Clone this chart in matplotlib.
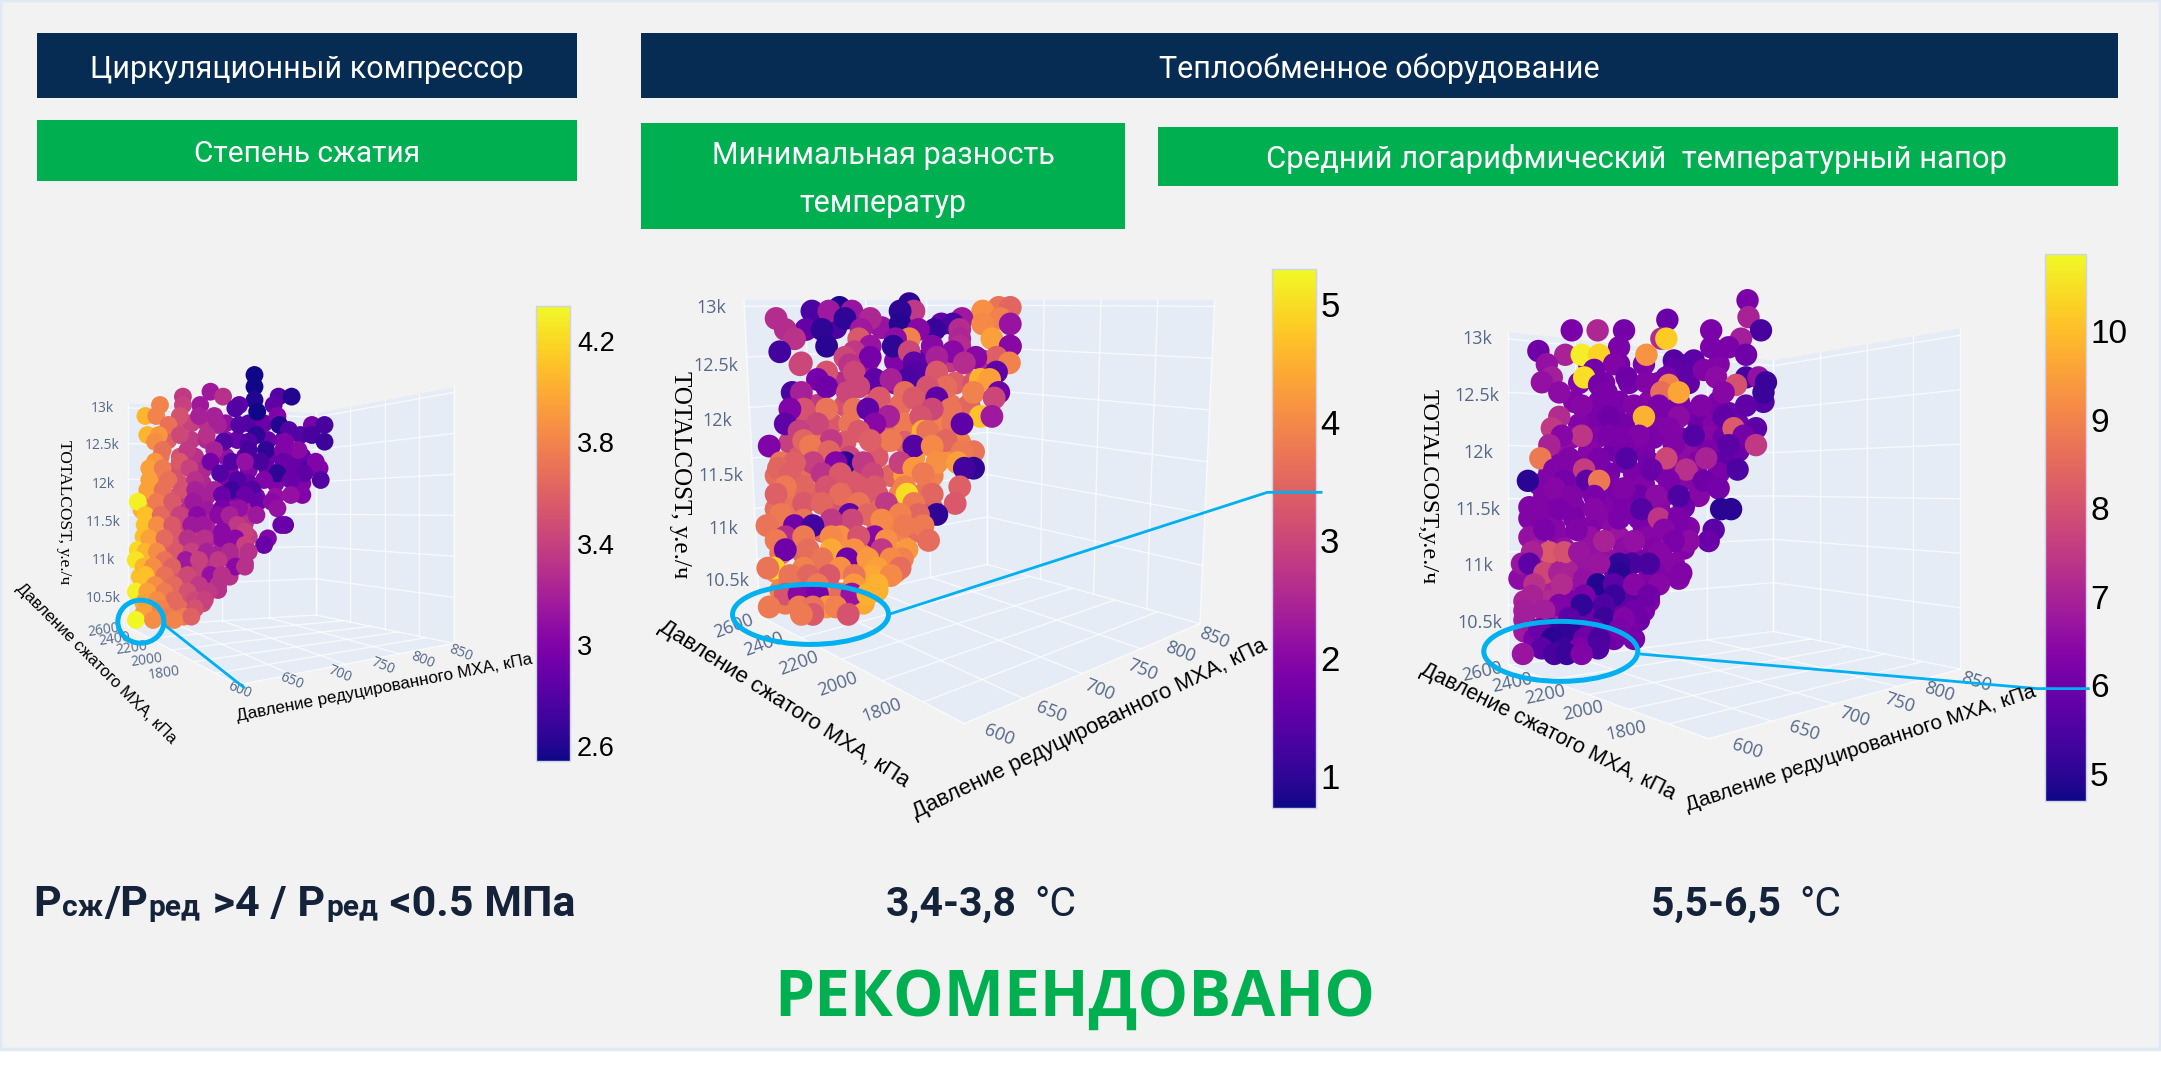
import numpy as np
import matplotlib
matplotlib.use("Agg")
import matplotlib.pyplot as plt
from matplotlib.patches import Rectangle, Polygon, Ellipse
from matplotlib.cm import ScalarMappable
from matplotlib.colors import Normalize

HEAD = ['Roboto', 'Open Sans', 'DejaVu Sans']
W, H = 2161, 1073
BG = '#f2f2f2'; NAVY = '#062c54'; GREEN = '#00b050'; CYAN = '#00b0f0'; INK = '#14233a'
TICK = '#54688a'; PLANE = '#e5ecf6'

# ---------- data: rows of equal TOTALCOST, projected position in the view, colour value ----------
left_under_cost = [12803,12583,12364,12189,12013,11838,11662,11487,11311,11136,10961,10785,10610,10434,10303]
left_under_proj = [[470,500,540,590,650,690],[440,500,540,590,620,700,740],[420,470,510,590,640,700,760,790],[460,530,600,650,700,740,800],[410,470,530,590,650,720,790],[400,440,490,540,610,670,720],[370,405,450,490,540,610,650],[390,430,480,540,590,640],[375,410,460,510,560,610,650],[360,395,440,480,530,580,625],[395,435,470,520,560,610,640],[365,405,450,480,520,560,600],[410,460,500,540,570],[375,430,470,500,530],[375,420,450,490]]
left_under_val = [[3.5,3.4,3.3,3.1,2.8,2.9],[3.6,3.35,3.25,3.1,2.9,2.9,2.9],[3.7,3.5,3.3,3.1,2.95,2.9,2.9,2.9],[3.5,3.25,3.0,3.0,2.9,2.9,2.8],[3.75,3.5,3.25,3.0,2.9,3.0,3.0],[3.75,3.55,3.35,3.2,3.0,3.0,3.1],[4.0,3.75,3.55,3.3,3.15,3.15,3.2],[3.9,3.65,3.4,3.2,3.15,3.3],[4.1,3.8,3.55,3.35,3.2,3.2,3.35],[4.2,3.9,3.6,3.45,3.35,3.2,3.35],[3.9,3.7,3.55,3.35,3.3,3.25,3.3],[4.1,3.85,3.6,3.5,3.4,3.3,3.3],[3.85,3.65,3.5,3.4,3.3],[4.0,3.75,3.65,3.5,3.45],[3.95,3.8,3.75,3.6]]
left_cost = [13439,13285,13219,13154,13110,13044,13000,12956,12899,12781,12715,12649,12561,12452,12298,12211,12145,12057,11925,11860,11772,11684,11596,11465,11377,11289,11202,11114,11004,10917,10807,10675,10588,10478,10368,10259,10215]
left_proj = [[665],[665],[550],[478,583,728,762],[665],[418,523,478,625,715],[615],[672],[380,408,470,520,560,725],[730,815,848,625,440,570],[755],[670,785,815,385,415,470,540],[585,848,405,745,650],[650,695,780,425,490,740,560],[405,550,605,825,680,740,470,640],[390,425,495,835,770],[575,725,795],[390,440,510,620,690,760,838],[605,385,425,475,510,660,560],[790,760,580,640],[360,410,450,505,675,710],[725,580,625],[380,420,470,515,570,600,670],[378,745,735,410,450,500,530,620],[640,580],[390,700,430,490,580,535,615],[690,640],[380,410,460,500,540,650,600],[355,430,485,520,570],[615,375,400,450,640],[550,380,430,490,580],[375,405,455,520,570],[355,385,430,490,545],[455,380,410,510,535],[385,420,470,510],[440,480,500],[355,400,455]]
left_val = [[2.55],[2.55],[3.15],[3.35,3.3,2.8,2.6],[2.6],[3.8,3.15,3.4,2.85,2.85],[2.8],[2.55],[4.05,3.8,3.5,3.2,3.2,3.0],[2.6,2.95,2.75,2.8,3.7,3.2],[2.8],[2.65,2.8,2.75,4.05,3.9,3.45,3.3],[2.8,2.7,3.85,3.0,2.8],[2.75,2.65,3.05,3.7,3.35,3.0,3.2],[3.9,2.95,2.8,3.0,2.75,2.9,3.55,3.1],[3.95,3.75,3.4,3.0,2.9],[2.8,2.65,2.85],[3.95,3.7,3.3,2.8,3.0,2.9,2.8],[2.7,3.95,3.7,3.5,3.2,2.8,3.2],[3.0,3.1,2.9,2.9],[4.3,3.75,3.55,3.15,2.9,3.05],[3.1,2.95,3.1],[4.1,3.65,3.4,3.05,3.05,3.2,3.15],[4.1,2.85,2.9,3.85,3.55,3.15,3.15,3.35],[3.4,3.05],[3.95,3.0,3.65,3.3,3.05,3.3,3.05],[2.9,3.4],[4.05,3.85,3.55,3.4,3.2,3.3,3.25],[4.25,3.7,3.15,3.4,3.35],[3.05,4.05,3.85,3.6,3.3],[3.1,4.1,3.7,3.45,3.3],[4.1,3.85,3.65,3.35,3.3],[4.3,3.95,3.75,3.5,3.35],[3.65,3.95,3.85,3.45,3.4],[3.95,3.8,3.65,3.5],[3.75,3.75,3.6],[4.33,3.85,3.8]]

mid_under_cost = [12824,12518,12315,12111,11942,11772,11636,11467,11297,11162,10958,10754,10585,10415,10297]
mid_under_proj = [[470,570],[540,600,660,720,790],[480,540,600,660,730,770],[430,490,550,610,660,720,760],[390,460,500,590,620,700],[370,430,490,570,620,650,740],[390,440,500,560,640,700],[340,400,510,590,620,680],[370,430,500,560,610,660],[340,390,480,570,620,680],[340,440,500,560,610,650],[350,400,470,540,590],[340,430,510,560,600],[350,400,460,510,560],[360,420,480,530]]
mid_under_val = [[1.3,2.2],[2.2,1.9,1.4,2.8,2.5],[2.6,2.3,2.0,3.0,3.4,3.2],[2.8,3.2,3.3,3.6,3.2,3.7,3.5],[2.9,3.3,3.7,3.5,3.8,3.9],[2.9,3.7,3.3,3.6,3.4,4.1,3.9],[3.3,3.5,3.0,3.3,4.2,4.1],[3.6,3.6,3.3,3.5,4.3,3.9],[3.7,3.4,3.5,3.3,3.9,3.7],[3.6,3.7,3.2,3.6,3.8,3.3],[3.9,3.5,3.7,3.6,3.9,3.6],[3.7,3.5,4.2,4.1,4.3],[4.0,3.8,4.0,4.4,4.0],[3.9,3.8,4.0,4.3,4.5],[3.8,4.2,4.2,4.4]]
mid_cost = [13044,13010,12976,12908,12858,12807,12722,12654,12603,12552,12501,12484,12417,12349,12281,12230,12179,12077,12010,11942,11874,11789,11738,11687,11586,11535,11484,11365,11297,11212,11111,11060,11009,10907,10873,10788,10704,10619,10551,10466,10381,10263,10195]
mid_proj = [[630],[478,825,850],[418,455,505,640,610,790],[340,545,745,828,490],[610,700,725,790,850],[405,440,360,525,685,740,650],[630,520,380,810,740,600],[450,595,680,850,545,740,850],[348,630,725,510],[490,545,820,690,775],[848,640,750,395],[392,500],[450,510,640,690,820],[625,430,555,785,805,590],[450,520,710,670],[375,395,770,825,620,495],[565,815,640,690],[400,370,450,720,510,680,540],[785,810,655,585],[555,725,430,745,360],[660,390,520,670],[590,710,460,545,400],[325,640,415,680],[770,745,455],[690,490,470,610,530,735,420,350,380],[770,750,640,345],[370,440,480,660,550],[555,620,740,400,360,450,520],[625,680,480,340],[730,580,400,440,640,520],[690,650,500,610,350,540],[505,400,460,570],[320,380,660,420,620],[480,555,360,460,400,520],[672,580,340],[460,570,410,625,510,360],[495,615,590,540,440],[335,322,560,480,610,400],[370,455,550,410,510,590],[510,560,370,430],[360,390,430,480,505,540],[325,390,450,420,470],[420,497,395]]
mid_val = [[1.0],[0.85,3.7,3.5],[1.3,2.3,2.2,2.8,1.0,4.1],[2.6,2.5,2.3,3.9,1.0],[0.9,1.6,1.3,4.0,2.2],[1.6,1.0,2.6,2.3,1.1,2.6,2.0],[3.9,3.3,2.7,4.3,2.5,2.1],[0.95,1.0,2.0,1.9,2.2,2.6,2.0],[1.2,3.0,2.0,2.8],[3.0,1.8,3.4,2.4,2.0],[3.9,1.5,2.6,3.0],[3.0,2.7],[3.2,3.0,1.4,3.3,1.5],[1.3,1.8,1.5,4.5,4.3,2.4],[1.7,3.0,3.6,3.2],[1.3,2.4,3.9,1.7,3.6,3.0],[3.3,3.0,3.3,1.5],[3.2,1.9,3.7,3.7,3.7,3.0,1.5],[4.7,2.3,3.2,2.4],[2.0,3.7,3.0,1.5,1.5],[4.5,2.9,3.3,3.7],[3.8,3.5,2.8,3.4,3.5],[1.9,1.4,3.8,4.0],[3.7,3.8,3.5],[4.1,0.95,1.9,2.9,2.8,4.3,2.9,3.7,3.4],[1.0,1.2,4.2,3.5],[3.4,2.7,3.3,3.8,3.0],[3.3,3.9,3.4,3.5,3.8,3.2,3.3],[5.0,3.5,3.6,3.4],[3.3,2.8,3.3,3.5,3.8,3.7],[1.0,3.5,1.5,3.9,3.8,3.5],[3.0,3.7,2.8,4.0],[3.7,1.7,3.8,1.2,3.8],[4.1,2.0,2.6,4.0,3.8,3.2],[3.6,4.1,3.8],[4.4,2.8,3.6,4.2,4.1,1.7],[1.7,3.9,4.0,4.2,3.7],[4.9,3.7,4.3,4.1,3.6,3.9],[3.7,3.3,4.4,3.5,3.7,4.0],[4.2,4.5,3.7,3.8],[3.2,2.0,1.8,3.6,2.2,4.5],[3.8,3.8,4.2,3.7,3.9],[3.3,3.2,3.8]]

right_under_cost = [12778,12613,12447,12348,12248,12133,12017,11918,11818,11719,11619,11520,11421,11338,11255,11156,11056,10974,10891,10792,10692,10609,10527,10427,10361]
right_under_proj = [[420,480,530,620,680],[400,450,500,560,620],[390,440,480,540,600,680,770],[420,470,520,580,620,660,700],[400,440,490,550,640,670,720],[385,435,490,550,600,660,690],[360,420,470,530,620,660,720],[340,400,440,490,540,600,640,690],[340,390,460,510,570,620,680],[320,360,410,460,530,600,640],[330,380,470,520,570,640],[300,340,390,450,490,560,610],[300,340,390,440,520,590],[350,420,470,530,620],[300,360,420,480,540,600],[320,370,430,490,550,610],[340,400,460,520,570],[310,375,420,470,540,580],[280,340,410,540,600],[330,390,440,490,530],[290,340,380,500,540],[370,420,470,530],[290,340,410,520],[290,340,400,460,500],[310,380,470,510]]
right_under_val = [[6.2,6.1,6.2,5.7,6.3],[6.3,6.2,6.1,6.2,5.8],[6.3,6.2,6.2,6.4,6.2,6.2,5.6],[6.2,6.2,6.3,6.1,6.2,6.2,5.9],[6.3,6.2,6.1,6.3,6.0,6.3,6.0],[6.5,6.3,6.2,6.2,6.3,6.4,6.0],[6.6,6.4,6.0,6.2,6.5,6.2,5.9],[6.3,6.4,6.1,6.2,6.1,6.5,6.3,5.8],[6.3,6.4,6.1,6.2,6.4,6.6,6.2],[6.3,6.2,6.4,6.2,6.3,6.4,6.4],[6.3,6.2,6.2,6.0,6.5,6.4],[6.3,6.3,6.3,6.3,6.2,6.4,6.0],[6.3,6.3,6.2,6.4,6.2,6.3],[6.4,6.3,6.5,6.2,6.3],[6.6,6.4,6.6,6.7,6.4,6.2],[6.8,6.6,6.6,6.5,6.3,6.3],[7.0,6.6,6.6,6.2,6.3],[7.0,7.0,6.7,6.0,6.2,6.3],[6.5,7.2,6.6,6.3,6.3],[7.0,6.6,6.2,6.0,6.2],[7.0,7.2,6.2,5.8,6.3],[6.5,6.0,5.9,6.2],[6.9,6.8,5.9,6.0],[6.8,6.5,5.8,6.0,6.2],[6.2,5.4,6.0,6.1]]
right_cost = [13341,13192,13169,13076,13003,12927,12894,12861,12811,12778,12728,12662,12619,12596,12530,12414,12315,12215,12149,12066,11950,11851,11752,11686,11619,11503,11421,11321,11222,11123,11023,10941,10841,10742,10659,10609,10543,10444,10361,10278,10229]
right_proj = [[738],[740],[577],[765,490,385,437,665],[565,725,575],[480,665,700],[318],[372,405,440,535,735],[590,630],[335,470],[650,430,590],[410,345,495,675,735,760,575],[325,775,535],[715,580,440],[360,770,565,690,600,455],[405,735,645,510,560],[460,360,530,600,690],[710,580,755,345],[405,365,520,630,460,730],[340,490,590,700,755],[322,575,655,495,440,380],[545,410,718,615,350],[297,415,440,370,580,650],[680,490,350],[555,430,600,385],[315,705,685,525,360,430],[560,480,600],[670,330,395,570],[660,620,450,510,590],[340,370,305,400,560],[285,505,480,300,440,540,590],[605,480,330,360],[437,365,310,470,510,560],[305,410,540,470],[405,360,450],[290,330,510],[380,450,490],[345,380,320,430,480],[345,410,440],[370,325,400,438],[287,350,375,405]]
right_val = [[6.2],[7.0],[5.9],[5.4,6.1,6.2,7.1,6.2],[7.2,6.9,10.2],[6.2,6.2,6.2],[6.0],[7.0,10.7,10.3,9.3,6.0],[5.6,5.7],[6.6,6.3],[6.3,6.1,5.8],[10.5,6.9,6.0,6.5,5.4,6.6,6.1],[6.6,5.2,6.3],[8.0,9.0,6.1],[6.5,5.2,8.6,6.4,9.6,6.2],[6.4,5.8,6.3,6.3,6.2],[6.0,7.2,9.8,6.5,5.8],[8.2,6.3,5.7,7.5],[7.4,6.4,6.3,5.6,6.2,6.1],[7.0,6.2,6.3,5.7,7.5],[8.8,7.8,7.0,5.6,6.2,6.3],[5.9,7.6,5.5,7.3,6.3],[5.0,5.7,8.8,6.1,6.2,6.0],[6.1,6.3,6.4],[6.5,6.2,5.5,6.3],[6.3,5.0,5.0,5.6,6.2,6.4],[7.4,6.2,6.2],[5.7,6.2,6.3,6.4],[5.9,6.5,7.0,6.6,6.2],[8.2,8.0,7.0,6.7,6.4],[6.7,5.4,5.1,5.7,6.7,5.4,6.4],[6.3,5.0,7.8,7.0],[4.9,7.2,7.3,5.7,6.4,6.4],[7.0,6.2,6.0,5.2],[5.1,6.3,5.5],[6.9,6.9,6.0],[5.7,5.2,6.3],[5.2,5.1,5.9,5.9,6.2],[5.0,6.0,5.4],[5.2,5.7,6.2,5.5],[6.7,5.4,5.2,6.3]]

cost_ticks = ['13k', '12.5k', '12k', '11.5k', '11k', '10.5k']
comp_ticks = ['2600', '2400', '2200', '2000', '1800']
red_ticks = ['600', '650', '700', '750', '800', '850']
cbar_left = [2.6, 3, 3.4, 3.8, 4.2]
cbar_mid = [1, 2, 3, 4, 5]
cbar_right = [5, 6, 7, 8, 9, 10]

fig = plt.figure(figsize=(W/100, H/100), dpi=100, facecolor='white')
def full(z):
    a = fig.add_axes([0, 0, 1, 1], zorder=z)
    a.set_xlim(0, W); a.set_ylim(H, 0); a.axis('off')
    return a
bg = full(0); fg = full(5)

bg.add_patch(Rectangle((0, 0), W-1, 1049, fc=BG, ec='#dfe9f3', lw=2.5))
k = 2161/1568
for (x0, y0, x1, y1, c) in [(27,24,419,71,NAVY),(465,24,1537,71,NAVY),(27,87,419,131,GREEN),(465,89,816,166,GREEN),(840,92,1537,135,GREEN)]:
    bg.add_patch(Rectangle((x0*k, y0*k), (x1-x0)*k, (y1-y0)*k, fc=c, ec='none'))
for (t, x, y, fs) in [('Циркуляционный компрессор',307,70,22),('Теплообменное оборудование',1379,69,22),('Степень сжатия',307,154,21.5),('Минимальная разность',883,155,22),('температур',883,203,22),('Средний логарифмический  температурный напор',1637,159,22.3)]:
    bg.text(x, y, t, color='white', fontsize=fs, family=HEAD, ha='center', va='center')

def panel(X0, Y0, sx, sy, crop_w, crop_h, quad_corners, ymap, layers, vrange, size, ticks_pos, comp_pos, red_pos, rot, labels, tick_fs, cbar, ctk, cfs, cpad):
    P = lambda p: (X0 + p[0]/sx, Y0 + p[1]/sy)
    tl, tc, tr, bl, bc, br, fr = [P(p) for p in quad_corners]
    def quad(a, b, c, d, nu, nv, fracs=None):
        bg.add_patch(Polygon([a, b, d, c], fc=PLANE, ec='none'))
        a, b, c, d = map(np.array, (a, b, c, d))
        for u in np.linspace(0, 1, nu):
            p, q = a + (b-a)*u, c + (d-c)*u
            bg.plot([p[0], q[0]], [p[1], q[1]], color='white', lw=1.0, alpha=.7)
        for v in (fracs if fracs is not None else np.linspace(0, 1, nv)):
            p, q = a + (c-a)*v, b + (d-b)*v
            bg.plot([p[0], q[0]], [p[1], q[1]], color='white', lw=1.0, alpha=.7)
    fr_ticks = [0.02, 0.18, 0.34, 0.5, 0.66, 0.82]
    quad(tl, tc, bl, bc, 5, 0, fr_ticks)
    quad(tc, tr, bc, br, 5, 0, fr_ticks)
    quad(bl, bc, fr, br, 5, 6)
    ax = fig.add_axes([X0/W, 1-(Y0+crop_h)/H, crop_w/W, crop_h/H], zorder=2)
    z13, c13, z105, c105 = ymap
    slope = (c13-c105)/(z105-z13)
    ax.set_xlim(0, crop_w*sx)
    ax.set_ylim(c13-(crop_h*sy-z13)*slope, c13+z13*slope)
    ax.axis('off')
    for cost, proj, val in layers:
        n = [len(r) for r in proj]
        assert len(cost) == len(proj) == len(val) and n == [len(r) for r in val]
        ax.scatter(np.concatenate(proj), np.repeat(cost, n), c=np.concatenate(val), cmap='plasma',
                   vmin=vrange[0], vmax=vrange[1], s=size, lw=0, clip_on=False)
    for t, p in zip(cost_ticks, ticks_pos):
        q = P(p); bg.text(q[0], q[1], t, color=TICK, fontsize=tick_fs, family='Open Sans', ha='center', va='center')
    for t, p in zip(comp_ticks, comp_pos):
        q = P(p); bg.text(q[0], q[1], t, color=TICK, fontsize=tick_fs, family='Open Sans', ha='center', va='center', rotation=rot[0], rotation_mode='anchor')
    for t, p in zip(red_ticks, red_pos):
        q = P(p); bg.text(q[0], q[1], t, color=TICK, fontsize=tick_fs, family='Open Sans', ha='center', va='center', rotation=rot[1], rotation_mode='anchor')
    for (t, p, r, fs, fam) in labels:
        q = P(p); fg.text(q[0], q[1], t, color='black', fontsize=fs, family=fam, ha='center', va='center', rotation=r, rotation_mode='anchor')
    cax = fig.add_axes([cbar[0]/W, 1-cbar[3]/H, (cbar[1]-cbar[0])/W, (cbar[3]-cbar[2])/H], zorder=2)
    cb = fig.colorbar(ScalarMappable(Normalize(*vrange), 'plasma'), cax=cax, ticks=ctk)
    cb.ax.tick_params(length=0, pad=cpad, labelsize=cfs, colors='black')
    cb.ax.set_yticklabels([str(t) for t in ctk], family='Liberation Sans')
    cb.outline.set_edgecolor('#cdd3e8'); cb.outline.set_linewidth(1)
    return P

SANS = 'Liberation Sans'; SERIF = 'Liberation Serif'
P1 = panel(0, 280, 2.613, 3.0, 600, 520,
    [(335,370),(825,400),(1185,322),(335,1040),(825,1005),(1185,1090),(620,1215)],
    (385,13000,955,10500), [(left_under_cost,left_under_proj,left_under_val),(left_cost,left_proj,left_val)], (2.54,4.34), 165,
    [(268,385),(268,497),(270,613),(270,727),(270,842),(270,955)],
    [(270,1052),(300,1078),(343,1106),(383,1140),(430,1180)],
    [(625,1232),(762,1205),(888,1182),(1000,1160),(1105,1140),(1203,1120)], (8,-22),
    [('Давление сжатого МХА, кПа',(250,1150),-45,12,SANS),('Давление редуцированного МХА, кПа',(1005,1225),11,12.3,SANS),('TOTALCOST, у.е./ч',(168,695),-90,12.5,SERIF)],
    10, (536,570,306,761), cbar_left, 19.5, 5)
P2 = panel(620, 250, 2.178, 2.703, 720, 580,
    [(270,135),(800,135),(1295,135),(305,990),(800,850),(1263,1010),(750,1280)],
    (158,13000,895,10500), [(mid_under_cost,mid_under_proj,mid_under_val),(mid_cost,mid_proj,mid_val)], (0.73,5.30), 270,
    [(200,158),(208,313),(213,463),(220,610),(225,755),(232,895)],
    [(248,1018),(313,1065),(390,1117),(475,1175),(570,1245)],
    [(825,1312),(940,1248),(1043,1190),(1137,1135),(1220,1088),(1295,1048)], (20,-22),
    [('Давление сжатого МХА, кПа',(358,1228),-32.6,16,SANS),('Давление редуцированного МХА, кПа',(1022,1295),25.6,16,SANS),('TOTALCOST, у.е./ч',(130,608),-90,18,SERIF)],
    13, (1272,1316,269,808), cbar_mid, 25, 3)
P3 = panel(1380, 240, 2.008, 2.657, 781, 590,
    [(258,245),(790,320),(1165,235),(258,1130),(790,1040),(1165,1140),(660,1325)],
    (263,13000,1018,10500), [(right_under_cost,right_under_proj,right_under_val),(right_cost,right_proj,right_val)], (4.69,10.87), 260,
    [(195,263),(195,415),(197,567),(197,717),(197,867),(200,1018)],
    [(205,1148),(265,1177),(332,1208),(408,1252),(495,1303)],
    [(738,1352),(852,1305),(953,1268),(1043,1230),(1123,1200),(1197,1175)], (12,-18),
    [('Давление сжатого МХА, кПа',(338,1308),-26.6,15.5,SANS),('Давление редуцированного МХА, кПа',(965,1352),18.2,15,SANS),('TOTALCOST,у.е./ч',(97,655),-90,17.5,SERIF)],
    13, (2045,2086,254,801), cbar_right, 24, 3)

def callout(P, centre, rx, ry, pts, lw_e, lw_l):
    c = P(centre)
    fg.add_patch(Ellipse(c, 2*rx, 2*ry, fc='none', ec=CYAN, lw=lw_e))
    q = np.array([P(p) for p in pts])
    fg.plot(q[:,0], q[:,1], color=CYAN, lw=lw_l, solid_capstyle='butt')
callout(P1, (368,1025), 23, 21.5, [(430,1035),(640,1225)], 3.6, 2)
callout(P2, (415,985), 78, 30, [(585,985),(1410,655),(1530,655)], 3.6, 2)
callout(P3, (363,1093), 77, 30, [(522,1100),(1320,1192),(1425,1192)], 3.6, 2)

r = fig.canvas.get_renderer()
def chain(x, y, parts):
    for t, fs, wt in parts:
        tx = bg.text(x, y, t, color=INK, fontsize=fs, family=HEAD, weight=wt, ha='left', va='baseline')
        x = bg.transData.inverted().transform(tx.get_window_extent(r).p1)[0] + (8 if t.endswith(' ') else 1)
chain(33, 916, [('P',31,'bold'),('сж',21.5,'bold'),('/P',31,'bold'),('ред',21.5,'bold'),(' >4 / P',31,'bold'),('ред',21.5,'bold'),(' <0.5 МПа',31,'bold')])
chain(886, 916, [('3,4-3,8 ',29.5,'bold'),('°C',29.5,'normal')])
chain(1651, 916, [('5,5-6,5 ',29.5,'bold'),('°C',29.5,'normal')])
bg.text(1074.5, 1016, 'РЕКОМЕНДОВАНО', color=GREEN, fontsize=46, family=['Open Sans','DejaVu Sans'], weight='bold', ha='center', va='baseline')

fig.savefig('out.png', dpi=100, facecolor='white')
